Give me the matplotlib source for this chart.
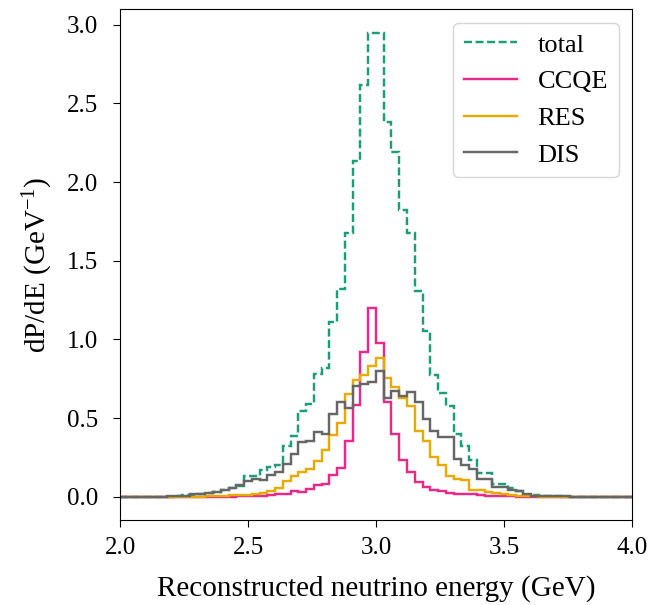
import numpy as np
import matplotlib
matplotlib.use("Agg")
import matplotlib.pyplot as plt

# Reconstructed energy spectrum split by interaction channel
bin_edges = np.linspace(2.0, 4.0, 67)

total = [0, 0, 0, 0, 0, 0, 0, 0.005, 0.01, 0.01,
         0.02, 0.025, 0.03, 0.04, 0.055, 0.07, 0.13, 0.135, 0.17, 0.19,
         0.2, 0.325, 0.389, 0.547, 0.59, 0.78, 0.818, 1.108, 1.319, 1.674,
         2.135, 2.62, 2.95, 2.95, 2.382, 2.19, 1.82, 1.674, 1.31, 1.055,
         0.774, 0.658, 0.58, 0.40, 0.325, 0.235, 0.152, 0.152, 0.082, 0.08,
         0.055, 0.034, 0.012, 0.01, 0.008, 0.005, 0.003, 0, 0, 0,
         0, 0, 0, 0, 0, 0]

ccqe = [0, 0, 0, 0, 0, 0, 0, 0, 0, 0,
        0, 0, 0, 0, 0, 0.003, 0.005, 0.005, 0.008, 0.01,
        0.015, 0.019, 0.036, 0.03, 0.051, 0.078, 0.08, 0.14, 0.186, 0.355,
        0.585, 0.92, 1.2, 0.98, 0.6, 0.4, 0.235, 0.16, 0.093, 0.061,
        0.04, 0.035, 0.022, 0.02, 0.018, 0.015, 0.01, 0.008, 0.005, 0.003,
        0.002, 0, 0, 0, 0, 0, 0, 0, 0, 0,
        0, 0, 0, 0, 0, 0]

res = [0, 0, 0, 0, 0, 0, 0, 0, 0, 0,
       0, 0.003, 0.005, 0.008, 0.01, 0.01, 0.012, 0.019, 0.022, 0.035,
       0.055, 0.1, 0.135, 0.157, 0.178, 0.23, 0.3, 0.395, 0.47, 0.652,
       0.745, 0.772, 0.83, 0.88, 0.752, 0.70, 0.625, 0.58, 0.42, 0.357,
       0.25, 0.205, 0.13, 0.11, 0.105, 0.045, 0.04, 0.028, 0.022, 0.015,
       0.012, 0.008, 0.005, 0.003, 0, 0, 0, 0, 0, 0,
       0, 0, 0, 0, 0, 0]

dis = [0, 0, 0, 0, 0, 0, 0.002, 0.005, 0.008, 0.015,
       0.02, 0.025, 0.03, 0.04, 0.055, 0.075, 0.1, 0.11, 0.105, 0.14,
       0.16, 0.21, 0.27, 0.345, 0.357, 0.41, 0.4, 0.526, 0.604, 0.565,
       0.706, 0.717, 0.727, 0.80, 0.626, 0.674, 0.642, 0.664, 0.60, 0.495,
       0.415, 0.379, 0.379, 0.24, 0.205, 0.178, 0.114, 0.114, 0.061, 0.065,
       0.04, 0.034, 0.015, 0.008, 0.005, 0.003, 0.005, 0.002, 0, 0,
       0, 0, 0, 0, 0, 0]

plt.rcParams["font.family"] = ["Liberation Serif", "DejaVu Serif"]
plt.rcParams["mathtext.fontset"] = "custom"
plt.rcParams["mathtext.rm"] = "Liberation Serif"
plt.rcParams["mathtext.it"] = "Liberation Serif:italic"

fig = plt.figure(figsize=(6.58, 6.05), dpi=100)
ax = fig.add_axes([0.1824, 0.1405, 0.778, 0.844])

lw = 1.75
ax.stairs(total, bin_edges, baseline=None, color="#1b9e77", lw=lw,
          ls=(0, (3.3, 1.45)), label="total")
ax.stairs(ccqe, bin_edges, baseline=None, color="#e7298a", lw=lw, label="CCQE")
ax.stairs(res, bin_edges, baseline=None, color="#e6ab02", lw=lw, label="RES")
ax.stairs(dis, bin_edges, baseline=None, color="#666666", lw=lw, label="DIS")

ax.set_xlim(2.0, 4.0)
ax.set_ylim(-0.1475, 3.0975)
ax.set_xticks([2.0, 2.5, 3.0, 3.5, 4.0])
ax.set_yticks([0.0, 0.5, 1.0, 1.5, 2.0, 2.5, 3.0])
ax.tick_params(labelsize=18, length=5, pad=7)
ax.tick_params(axis="y", pad=11)

ax.set_xlabel("Reconstructed neutrino energy (GeV)", fontsize=21, labelpad=12)
ax.set_ylabel(r"dP/dE (GeV$^{-1}$)", fontsize=21, labelpad=8)

ax.legend(loc="upper right", fontsize=19, handlelength=2.0)

fig.savefig("out.png", dpi=100)
